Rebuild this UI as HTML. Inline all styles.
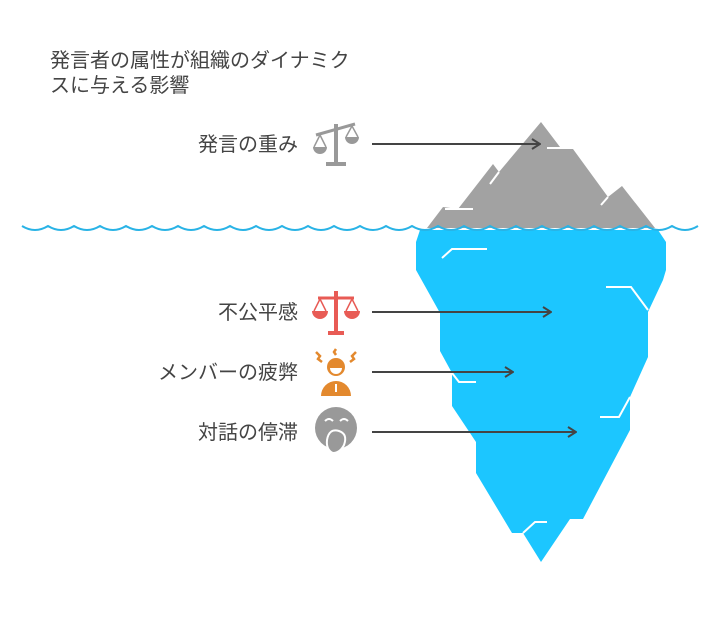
<!DOCTYPE html>
<html><head><meta charset="utf-8"><style>
body{margin:0;background:#fff;width:721px;height:613px;overflow:hidden;font-family:"Liberation Sans","Noto Sans CJK JP",sans-serif}
</style></head><body>
<svg width="721" height="613" viewBox="0 0 721 613" xmlns="http://www.w3.org/2000/svg">
<defs><marker id="a" markerWidth="10" markerHeight="12" refX="9" refY="6" orient="auto" markerUnits="userSpaceOnUse"><path d="M1,1 L9,6 L1,11" fill="none" stroke="#444" stroke-width="2"/></marker></defs>
<polygon fill="#1cc6ff" points="420,230 658,230 666,242 666,270 663,280 648,312 648,357 630,397 630,430 583,519 570,519 541,562 523,533 512,533 476,473 476,442 452,406 452,373 440,351 440,313 416,270 416,242"/>
<polygon fill="#a2a2a2" points="427,228 443,207 458,209 493,164 499,172 541,122 560,147 573,149 608,197 622,186 655,228"/>
<g stroke="#fff" stroke-width="2" fill="none">
<polyline points="547,148 573,148"/><polyline points="499,172 490,184"/><polyline points="445,209 473,209"/><polyline points="608,197 601,205"/>
<polyline points="442,258 452,249 487,249"/><polyline points="606,287 631,287 648,310"/><polyline points="452,373 459,382 476,382"/><polyline points="600,417 619,417 630,397"/><polyline points="523,533 535,522 547,522"/>
</g>
<path fill="none" stroke="#29b3e6" stroke-width="2" d="M22,226 q13,8 26,0 q13,8 26,0 q13,8 26,0 q13,8 26,0 q13,8 26,0 q13,8 26,0 q13,8 26,0 q13,8 26,0 q13,8 26,0 q13,8 26,0 q13,8 26,0 q13,8 26,0 q13,8 26,0 q13,8 26,0 q13,8 26,0 q13,8 26,0 q13,8 26,0 q13,8 26,0 q13,8 26,0 q13,8 26,0 q13,8 26,0 q13,8 26,0 q13,8 26,0 q13,8 26,0 q13,8 26,0 q13,8 26,0"/>
<g stroke="#444" stroke-width="2" marker-end="url(#a)">
<line x1="372" y1="144" x2="540" y2="144"/><line x1="372" y1="312" x2="551" y2="312"/><line x1="372" y1="372" x2="513" y2="372"/><line x1="372" y1="432" x2="576" y2="432"/>
</g>
<g fill="#444" font-size="20" font-family="Liberation Sans, Noto Sans CJK JP, sans-serif">
<text x="50" y="67">発言者の属性が組織のダイナミク</text>
<text x="50" y="92">スに与える影響</text>
<g text-anchor="end"><text x="298" y="151">発言の重み</text><text x="298" y="319">不公平感</text><text x="298" y="379">メンバーの疲弊</text><text x="298" y="439">対話の停滞</text></g>
</g>
<g fill="#999" stroke="#999">
<line x1="336" y1="124" x2="336" y2="163" stroke-width="4"/><line x1="326" y1="164" x2="346" y2="164" stroke-width="4"/>
<line x1="316" y1="135" x2="355" y2="124" stroke-width="3"/>
<path d="M313,147 a7,7 0 0 0 14,0 z" stroke="none"/><path d="M345,137 a7,7 0 0 0 14,0 z" stroke="none"/>
<path d="M320,135 l-6,12 M320,135 l6,12 M352,126 l-6,11 M352,126 l6,11" fill="none" stroke-width="1.5"/>
</g>
<g fill="#e85b55" stroke="#e85b55">
<line x1="336" y1="291" x2="336" y2="332" stroke-width="4"/><line x1="328" y1="333" x2="344" y2="333" stroke-width="4"/>
<line x1="318" y1="298" x2="354" y2="298" stroke-width="3"/>
<path d="M312,311 a8,8 0 0 0 16,0 z" stroke="none"/><path d="M344,311 a8,8 0 0 0 16,0 z" stroke="none"/>
<path d="M320,299 l-6,12 M320,299 l6,12 M352,299 l-6,12 M352,299 l6,12" fill="none" stroke-width="1.5"/>
</g>
<g fill="#e3892e">
<circle cx="336" cy="367" r="9"/><path d="M321,396 a15,15 0 0 1 30,0 z"/>
<path d="M330,368 a6,6 0 0 0 12,0 z" fill="#fff"/><rect x="335" y="384" width="2" height="8" fill="#fff"/>
<path d="M316,352 l4,4 -2,3 4,3" fill="none" stroke="#e3892e" stroke-width="2.5"/><path d="M356,352 l-4,4 2,3 -4,3" fill="none" stroke="#e3892e" stroke-width="2.5"/><path d="M336,349 l-2,3 2,3" fill="none" stroke="#e3892e" stroke-width="2.5"/>
</g>
<g>
<circle cx="336" cy="428" r="21" fill="#999"/>
<path d="M325,421 q4,-4 8,0 M340,421 q4,-4 8,0" stroke="#fff" stroke-width="2" fill="none"/>
<path d="M327,440 q2,-12 12,-9 q9,3 5,14 q-4,8 -11,8 q-7,-3 -6,-13z" fill="#999" stroke="#fff" stroke-width="2"/>
</g>
</svg>
</body></html>
